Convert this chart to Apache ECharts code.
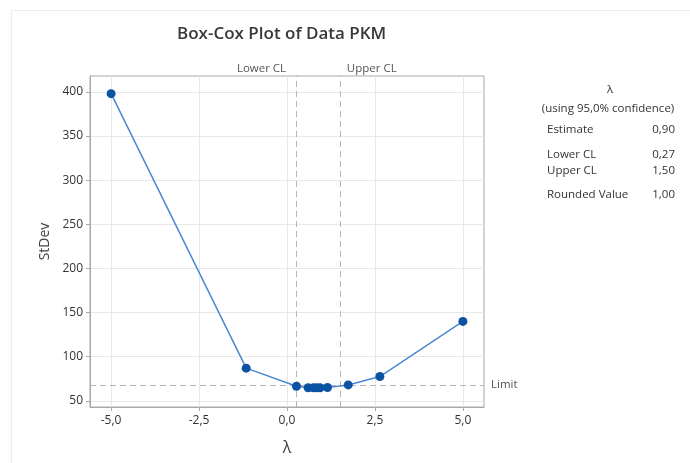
<!DOCTYPE html>
<html>
<head>
<meta charset="utf-8">
<script src="https://cdn.jsdelivr.net/npm/echarts@6/dist/echarts.min.js"></script>
<style>
  html, body { margin: 0; padding: 0; background: #fff; }
  #frame { position: absolute; left: 11px; top: 10px; width: 690px; height: 463px;
           border-left: 1px solid #ececec; border-top: 1px solid #ececec; }
  #chart { position: absolute; left: 0; top: 0; width: 690px; height: 463px; }
</style>
</head>
<body>
<div id="frame"></div>
<div id="chart"></div>
<script>
  // lambda values and the StDev
  var lambdas = [-5, -1.16, 0.27, 0.6, 0.75, 0.84, 0.94, 1.15, 1.74, 2.64, 5];
  var stdevs = [398, 87, 66.5, 64.8, 64.7, 64.7, 64.8, 65.1, 68, 77.5, 140];

  var xTicks = [-5, -2.5, 0, 2.5, 5];
  var yTicks = [50, 100, 150, 200, 250, 300, 350, 400];

  var lowerCL = 0.27;
  var upperCL = 1.50;
  var limit = 68;

  // table on the right
  var infoNames = ['Estimate', 'Lower CL', 'Upper CL', 'Rounded Value'];
  var infoValues = ['0,90', '0,27', '1,50', '1,00'];

  var fmt = function (v) { return v.toFixed(1).replace('.', ','); };

  var pts = [];
  for (var i = 0; i < lambdas.length; i++) {
    pts.push([lambdas[i], stdevs[i]]);
  }

  var infoY = [130, 155, 171, 195];
  var font = '11.5px "Open Sans"';
  var graphics = [
    { type: 'text', x: 610, y: 90, style: { text: 'λ', font: font, fill: '#333', textAlign: 'center', textVerticalAlign: 'middle' } },
    { type: 'text', x: 608, y: 109, style: { text: '(using 95,0% confidence)', font: font, fill: '#333', textAlign: 'center', textVerticalAlign: 'middle' } }
  ];
  for (var k = 0; k < infoNames.length; k++) {
    graphics.push({ type: 'text', x: 547, y: infoY[k], style: { text: infoNames[k], font: font, fill: '#333', textAlign: 'left', textVerticalAlign: 'middle' } });
    graphics.push({ type: 'text', x: 675, y: infoY[k], style: { text: infoValues[k], font: font, fill: '#333', textAlign: 'right', textVerticalAlign: 'middle' } });
  }

  var myChart = echarts.init(document.getElementById('chart'));
  var option = {
    backgroundColor: 'transparent',
    animation: false,
    title: {
      text: 'Box-Cox Plot of Data PKM',
      left: 172,
      top: 21,
      textStyle: { fontFamily: 'Open Sans', fontSize: 17, fontWeight: 600, color: '#383838' }
    },
    grid: {
      left: 90, right: 206, top: 76, bottom: 56,
      show: true, borderColor: '#a8a8a8', borderWidth: 1
    },
    xAxis: {
      type: 'value',
      min: -5.6, max: 5.6,
      name: 'λ',
      nameLocation: 'middle',
      nameGap: 33,
      nameTextStyle: { fontFamily: 'Open Sans', fontSize: 16, color: '#444' },
      axisLine: { show: true, onZero: false, lineStyle: { color: '#a8a8a8' } },
      axisTick: { show: true, customValues: xTicks, length: 4, lineStyle: { color: '#a8a8a8' } },
      axisLabel: { customValues: xTicks, formatter: fmt, fontFamily: 'Open Sans', fontSize: 12, color: '#333', margin: 8 },
      splitLine: { show: true, customValues: xTicks, lineStyle: { color: '#e8e8e8' } }
    },
    yAxis: {
      type: 'value',
      min: 43, max: 418,
      name: 'StDev',
      nameLocation: 'middle',
      nameGap: 37,
      nameTextStyle: { fontFamily: 'Open Sans', fontSize: 14, color: '#444' },
      axisLine: { show: true, onZero: false, lineStyle: { color: '#a8a8a8' } },
      axisTick: { show: true, customValues: yTicks, length: 4, lineStyle: { color: '#a8a8a8' } },
      axisLabel: { customValues: yTicks, fontFamily: 'Open Sans', fontSize: 12, color: '#333', margin: 7 },
      splitLine: { show: true, customValues: yTicks, lineStyle: { color: '#e8e8e8' } }
    },
    graphic: graphics,
    series: [
      {
        type: 'line',
        data: pts,
        symbol: 'circle',
        symbolSize: 9,
        itemStyle: { color: '#0c52a3' },
        lineStyle: { color: '#4a88cf', width: 1.5 },
        markLine: {
          silent: true,
          symbol: 'none',
          lineStyle: { color: '#b5b5b5', type: [6, 4], width: 1 },
          data: [
            { xAxis: lowerCL, label: { show: true, position: 'end', formatter: 'Lower CL', distance: 1, padding: [0, 70, 0, 0], fontFamily: 'Open Sans', fontSize: 11.5, color: '#555' } },
            { xAxis: upperCL, label: { show: true, position: 'end', formatter: 'Upper CL', distance: 1, padding: [0, 0, 0, 64], fontFamily: 'Open Sans', fontSize: 11.5, color: '#555' } },
            { yAxis: limit, label: { show: true, position: 'end', formatter: 'Limit', distance: 7, fontFamily: 'Open Sans', fontSize: 11.5, color: '#555' } }
          ]
        },
        z: 5
      }
    ]
  };
  myChart.setOption(option);
</script>
</body>
</html>
